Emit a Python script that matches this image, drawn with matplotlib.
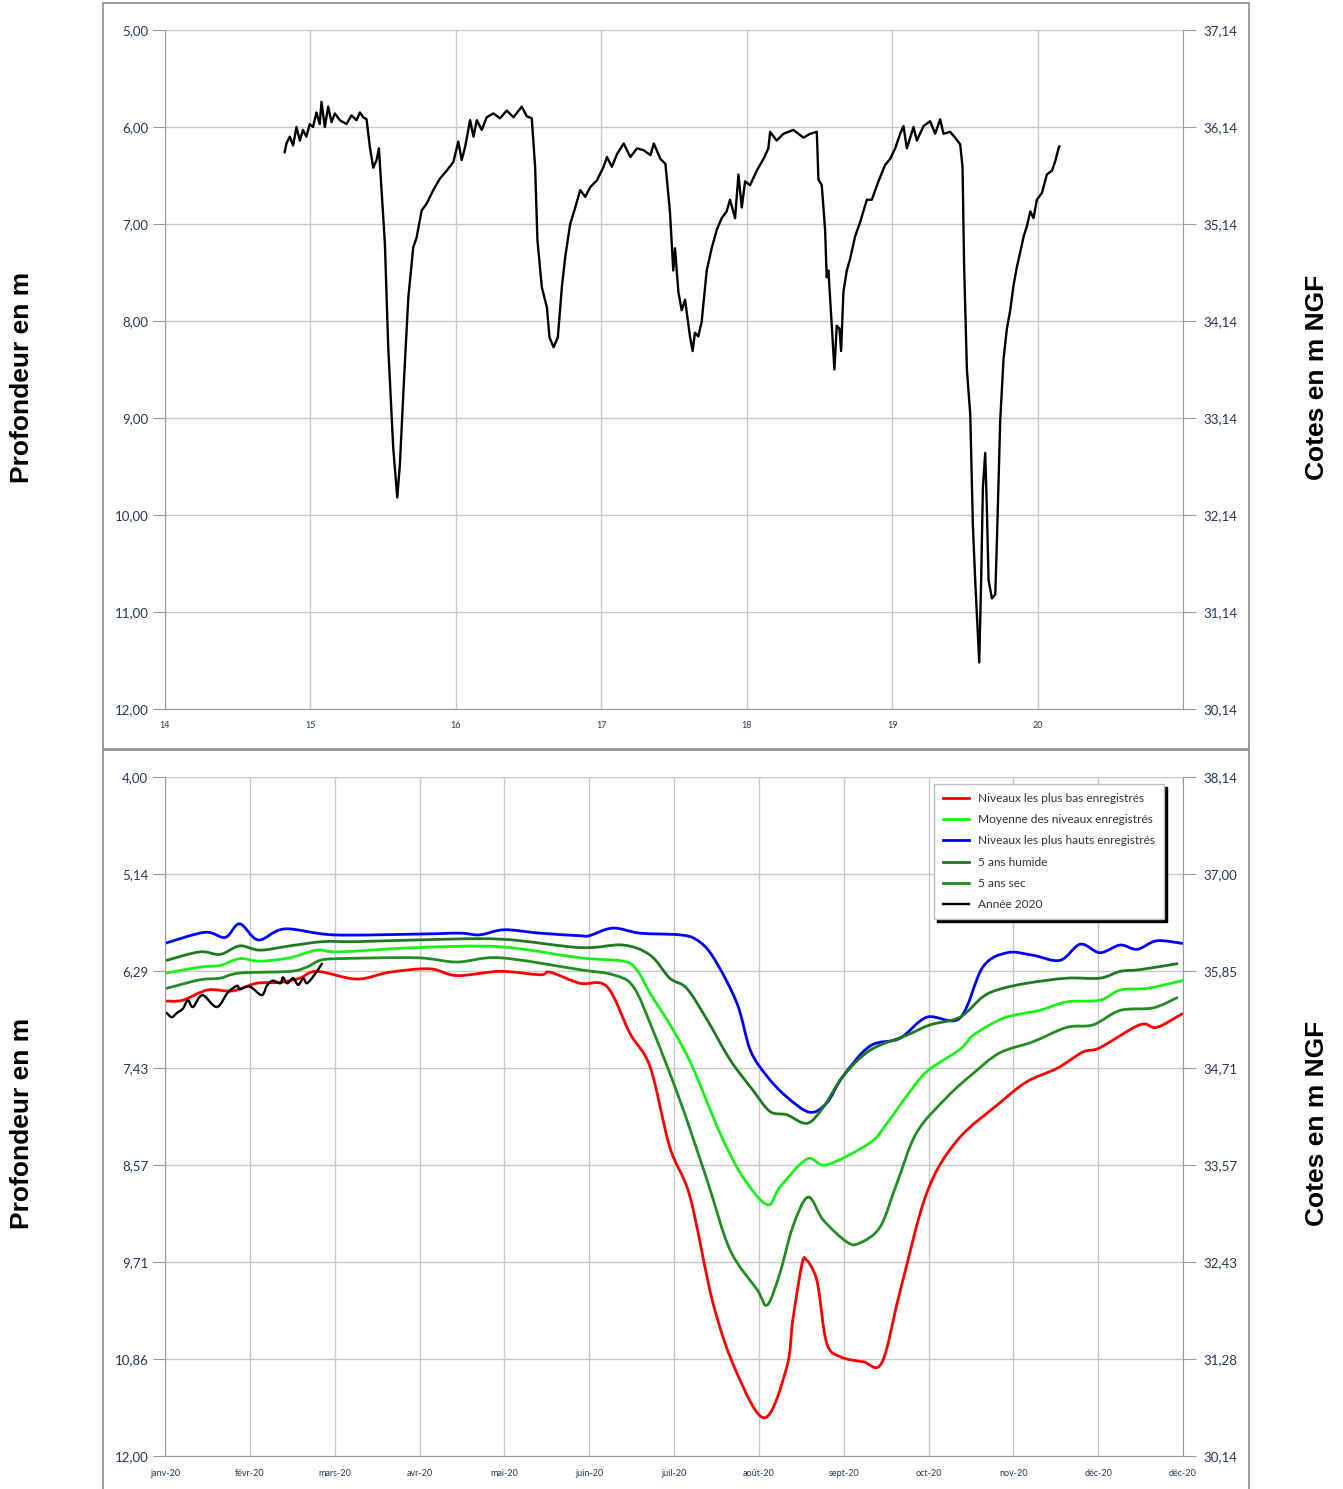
import matplotlib
matplotlib.use("Agg")
import matplotlib.pyplot as plt
from matplotlib.patches import Rectangle, PathPatch
from matplotlib.path import Path
from matplotlib.lines import Line2D

# --- top chart : piezometer record 2014-2020 (depth in m) ---
top_years = [14.823, 14.835, 14.858, 14.881, 14.904, 14.927, 14.949, 14.972, 14.995, 15.018,
             15.041, 15.064, 15.076, 15.099, 15.122, 15.145, 15.168, 15.202, 15.248, 15.282,
             15.317, 15.340, 15.363, 15.386, 15.409, 15.432, 15.455, 15.471, 15.489, 15.512,
             15.535, 15.569, 15.597, 15.615, 15.643, 15.673, 15.707, 15.730, 15.765, 15.799,
             15.845, 15.891, 15.937, 15.983, 16.017, 16.040, 16.063, 16.098, 16.121, 16.144,
             16.178, 16.212, 16.258, 16.304, 16.350, 16.396, 16.453, 16.488, 16.522, 16.545,
             16.561, 16.591, 16.626, 16.644, 16.672, 16.701, 16.729, 16.752, 16.786, 16.821,
             16.855, 16.890, 16.924, 16.970, 17.016, 17.039, 17.073, 17.108, 17.154, 17.200,
             17.246, 17.292, 17.338, 17.361, 17.407, 17.441, 17.472, 17.495, 17.507, 17.530,
             17.553, 17.576, 17.610, 17.628, 17.644, 17.667, 17.690, 17.725, 17.759, 17.794,
             17.828, 17.862, 17.885, 17.920, 17.943, 17.966, 17.989, 18.023, 18.069, 18.115,
             18.149, 18.161, 18.206, 18.252, 18.321, 18.390, 18.436, 18.482, 18.493, 18.516,
             18.539, 18.550, 18.562, 18.585, 18.603, 18.619, 18.638, 18.649, 18.665, 18.688,
             18.711, 18.745, 18.780, 18.826, 18.860, 18.906, 18.952, 18.986, 19.021, 19.055,
             19.078, 19.101, 19.147, 19.170, 19.216, 19.261, 19.296, 19.330, 19.353, 19.399,
             19.433, 19.468, 19.484, 19.495, 19.514, 19.537, 19.555, 19.571, 19.599, 19.612,
             19.624, 19.640, 19.651, 19.663, 19.686, 19.709, 19.720, 19.743, 19.766, 19.789,
             19.812, 19.835, 19.858, 19.881, 19.904, 19.927, 19.950, 19.972, 19.995, 20.030,
             20.064, 20.099, 20.122, 20.144, 20.150]
top_depth = [6.26, 6.17, 6.10, 6.19, 6.00, 6.14, 6.03, 6.10, 5.97, 6.00,
             5.85, 5.97, 5.74, 6.00, 5.79, 5.95, 5.86, 5.93, 5.97, 5.88,
             5.93, 5.85, 5.90, 5.92, 6.21, 6.42, 6.34, 6.22, 6.65, 7.20,
             8.27, 9.30, 9.82, 9.48, 8.62, 7.76, 7.24, 7.14, 6.86, 6.79,
             6.65, 6.53, 6.45, 6.36, 6.15, 6.34, 6.21, 5.93, 6.10, 5.93,
             6.03, 5.90, 5.86, 5.91, 5.83, 5.90, 5.79, 5.89, 5.91, 6.41,
             7.17, 7.65, 7.86, 8.17, 8.27, 8.17, 7.65, 7.34, 7.00, 6.83,
             6.65, 6.72, 6.62, 6.55, 6.41, 6.31, 6.41, 6.28, 6.17, 6.31,
             6.22, 6.24, 6.29, 6.17, 6.33, 6.38, 6.87, 7.48, 7.25, 7.70,
             7.89, 7.78, 8.16, 8.31, 8.12, 8.16, 8.01, 7.48, 7.25, 7.06,
             6.94, 6.87, 6.75, 6.94, 6.49, 6.83, 6.56, 6.60, 6.45, 6.33,
             6.22, 6.05, 6.14, 6.07, 6.03, 6.11, 6.07, 6.05, 6.54, 6.60,
             7.06, 7.55, 7.48, 8.05, 8.50, 8.05, 8.08, 8.31, 7.70, 7.48,
             7.36, 7.13, 6.98, 6.75, 6.75, 6.56, 6.39, 6.33, 6.22, 6.07,
             5.99, 6.22, 6.00, 6.14, 5.99, 5.94, 6.07, 5.92, 6.07, 6.05,
             6.11, 6.18, 6.41, 7.44, 8.50, 8.96, 10.10, 10.67, 11.52, 10.67,
             9.72, 9.36, 9.91, 10.67, 10.86, 10.82, 10.29, 9.03, 8.39, 8.08,
             7.89, 7.63, 7.44, 7.29, 7.13, 7.02, 6.87, 6.94, 6.75, 6.68,
             6.49, 6.45, 6.35, 6.22, 6.20]
top_xticks = [14, 15, 16, 17, 18, 19, 20]
top_yticks = [5, 6, 7, 8, 9, 10, 11, 12]

# --- bottom chart : 2020 against statistics (month index 0 = janv-20) ---
month_labels = ["janv-20", "févr-20", "mars-20", "avr-20", "mai-20", "juin-20", "juil-20",
                "août-20", "sept-20", "oct-20", "nov-20", "déc-20", "déc-20"]
bottom_yticks = [4 + 8 / 7 * k for k in range(8)]

red_x = [0.02, 0.21, 0.50, 0.80, 1.08, 1.36, 1.59, 1.79, 2.26, 2.65, 3.12, 3.44, 3.95, 4.42,
         4.54, 4.89, 5.21, 5.48, 5.72, 5.95, 6.19, 6.46, 6.74, 7.07, 7.33, 7.40, 7.51, 7.56,
         7.64, 7.70, 7.80, 7.96, 8.23, 8.45, 8.66, 8.98, 9.34, 9.84, 10.16, 10.52, 10.82,
         11.02, 11.49, 11.69, 11.99]
red_y = [6.64, 6.63, 6.51, 6.52, 6.43, 6.42, 6.37, 6.29, 6.38, 6.30, 6.26, 6.34, 6.29, 6.33,
         6.30, 6.43, 6.47, 7.02, 7.42, 8.36, 8.95, 10.20, 11.02, 11.55, 10.95, 10.40, 9.73, 9.69,
         9.81, 10.01, 10.67, 10.83, 10.89, 10.90, 10.08, 8.90, 8.28, 7.84, 7.59, 7.43, 7.24,
         7.19, 6.92, 6.95, 6.79]

mean_x = [0.02, 0.41, 0.65, 0.88, 1.12, 1.47, 1.79, 2.06, 2.97, 3.95, 4.89, 5.40, 5.56, 5.72,
          5.99, 6.22, 6.54, 6.81, 7.10, 7.25, 7.57, 7.80, 8.31, 8.51, 8.75, 8.98, 9.37, 9.53,
          9.84, 10.04, 10.31, 10.63, 11.02, 11.26, 11.58, 11.99]
mean_y = [6.31, 6.24, 6.22, 6.14, 6.17, 6.13, 6.04, 6.06, 6.01, 6.00, 6.13, 6.17, 6.27, 6.55,
          6.98, 7.42, 8.19, 8.71, 9.04, 8.83, 8.50, 8.57, 8.31, 8.08, 7.75, 7.47, 7.21, 7.04,
          6.86, 6.80, 6.75, 6.65, 6.63, 6.51, 6.49, 6.40]

blue_x = [0.00, 0.47, 0.71, 0.88, 1.10, 1.41, 1.99, 3.01, 3.48, 3.71, 4.00, 4.42, 4.89, 5.00,
          5.28, 5.60, 6.07, 6.27, 6.46, 6.74, 6.90, 7.10, 7.33, 7.60, 7.80, 7.99, 8.31, 8.66,
          8.98, 9.37, 9.64, 9.93, 10.23, 10.55, 10.79, 11.02, 11.26, 11.46, 11.69, 11.99]
blue_y = [5.96, 5.83, 5.89, 5.73, 5.92, 5.79, 5.86, 5.85, 5.84, 5.86, 5.80, 5.84, 5.87, 5.87,
          5.78, 5.84, 5.86, 5.92, 6.12, 6.66, 7.22, 7.53, 7.77, 7.95, 7.84, 7.53, 7.17, 7.08,
          6.83, 6.84, 6.24, 6.07, 6.10, 6.16, 5.97, 6.07, 5.98, 6.03, 5.93, 5.96]

wet_x = [0.02, 0.41, 0.65, 0.88, 1.12, 1.47, 1.86, 2.26, 2.97, 3.95, 4.89, 5.40, 5.72, 5.95,
         6.15, 6.39, 6.66, 6.93, 7.13, 7.33, 7.57, 7.76, 7.99, 8.31, 8.75, 9.02, 9.37, 9.64,
         9.84, 10.16, 10.63, 11.02, 11.26, 11.49, 11.93]
wet_y = [6.16, 6.06, 6.09, 5.99, 6.04, 5.99, 5.94, 5.94, 5.92, 5.91, 6.01, 5.98, 6.10, 6.37,
         6.49, 6.86, 7.33, 7.69, 7.94, 7.98, 8.08, 7.89, 7.53, 7.22, 7.04, 6.92, 6.83, 6.59,
         6.50, 6.43, 6.37, 6.37, 6.29, 6.27, 6.20]

dry_x = [0.02, 0.41, 0.65, 0.88, 1.47, 1.67, 1.83, 2.06, 2.97, 3.44, 3.95, 4.89, 5.28, 5.52,
         5.75, 6.07, 6.39, 6.66, 6.98, 7.10, 7.25, 7.40, 7.58, 7.76, 8.04, 8.19, 8.43, 8.63,
         8.86, 9.22, 9.53, 9.84, 10.23, 10.63, 10.94, 11.26, 11.65, 11.93]
dry_y = [6.49, 6.39, 6.37, 6.31, 6.29, 6.24, 6.16, 6.14, 6.13, 6.18, 6.13, 6.27, 6.33, 6.47,
         6.98, 7.81, 8.75, 9.57, 10.04, 10.22, 9.84, 9.30, 8.95, 9.22, 9.48, 9.49, 9.30, 8.78,
         8.19, 7.77, 7.49, 7.25, 7.12, 6.95, 6.92, 6.75, 6.72, 6.60]

y2020_x = [0.02, 0.08, 0.14, 0.21, 0.27, 0.33, 0.44, 0.61, 0.74, 0.85, 0.88, 1.00, 1.14, 1.20,
           1.27, 1.36, 1.39, 1.44, 1.51, 1.57, 1.63, 1.67, 1.74, 1.85]
y2020_y = [6.78, 6.83, 6.78, 6.73, 6.63, 6.71, 6.57, 6.71, 6.54, 6.46, 6.50, 6.47, 6.57, 6.46,
           6.40, 6.43, 6.36, 6.43, 6.37, 6.45, 6.37, 6.43, 6.36, 6.20]

NGF_REF = 42.14   # cote = NGF_REF - depth
TICK_COL = "#253858"
GRID_COL = "#C8C8C8"
SPINE_COL = "#9A9A9A"


def fmt(v):
    return f"{v:.2f}".replace(".", ",")


def smooth_path(xs, ys):
    # Excel style "smoothed line": cubic bezier through every read point
    pts = list(zip(xs, ys))
    n = len(pts)
    verts, codes = [pts[0]], [Path.MOVETO]
    for i in range(n - 1):
        p0 = pts[i - 1] if i > 0 else pts[i]
        p1, p2 = pts[i], pts[i + 1]
        p3 = pts[i + 2] if i + 2 < n else pts[i + 1]
        c1 = (p1[0] + (p2[0] - p0[0]) / 6, p1[1] + (p2[1] - p0[1]) / 6)
        c2 = (p2[0] - (p3[0] - p1[0]) / 6, p2[1] - (p3[1] - p1[1]) / 6)
        verts += [c1, c2, p2]
        codes += [Path.CURVE4] * 3
    return Path(verts, codes)


def style_axes(ax, yticks, ylim):
    ax.set_ylim(ylim[1], ylim[0])
    ax.set_yticks(yticks)
    ax.set_yticklabels([fmt(v) for v in yticks])
    ax.grid(True, color=GRID_COL, lw=1)
    ax.set_axisbelow(True)
    for s in ["left", "bottom", "right"]:
        ax.spines[s].set_color(SPINE_COL)
    ax.spines["top"].set_visible(False)
    ax.tick_params(axis="y", length=9, color=SPINE_COL, labelcolor=TICK_COL,
                   labelsize=9.5, pad=3)
    ax.tick_params(axis="x", length=0, labelcolor=TICK_COL, labelsize=6.5, pad=9)
    # right axis : NGF altitude
    ax2 = ax.twinx()
    ax2.set_ylim(ax.get_ylim())
    ax2.set_yticks(yticks)
    ax2.set_yticklabels([fmt(NGF_REF - v) for v in yticks])
    ax2.tick_params(axis="y", length=9, color=SPINE_COL, labelcolor=TICK_COL,
                    labelsize=9.5, pad=6)
    for s in ax2.spines.values():
        s.set_visible(False)
    return ax2


plt.rcParams["font.family"] = ["Lato", "DejaVu Sans"]
fig = plt.figure(figsize=(13.43, 14.89), dpi=100)

# panel frames
for y0, h in [(1 - 749 / 1489, 746 / 1489), (-0.01, 739 / 1489 + 0.01)]:
    fig.patches.append(Rectangle((103 / 1343, y0), 1146 / 1343, h, transform=fig.transFigure,
                                 fill=False, ec="#8C8C8C", lw=1.2))

left, width = 165 / 1343, 1018 / 1343
ax_top = fig.add_axes([left, 1 - 709 / 1489, width, 679 / 1489])
ax_bot = fig.add_axes([left, 1 - 1456 / 1489, width, 679 / 1489])

# top chart
ax_top.plot(top_years, top_depth, color="black", lw=1.7)
ax_top.set_xlim(14, 21)
ax_top.set_xticks(top_xticks)
ax_top.set_xticklabels([str(v) for v in top_xticks])
style_axes(ax_top, top_yticks, (5, 12))

# bottom chart
lw = 2.0
series = [
    (red_x, red_y, "#FF0000", lw, "Niveaux les plus bas enregistrés"),
    (mean_x, mean_y, "#19F219", lw, "Moyenne des niveaux enregistrés"),
    (blue_x, blue_y, "#0000FF", lw, "Niveaux les plus hauts enregistrés"),
    (wet_x, wet_y, "#1E7A1E", lw, "5 ans humide"),
    (dry_x, dry_y, "#238C23", lw, "5 ans sec"),
    (y2020_x, y2020_y, "black", 1.7, "Année 2020"),
]
handles = []
for xs, ys, col, w, lab in series:
    ax_bot.add_patch(PathPatch(smooth_path(xs, ys), fill=False, ec=col, lw=w,
                               capstyle="round", joinstyle="round"))
    handles.append(Line2D([], [], color=col, lw=w, label=lab))
ax_bot.set_xlim(0, 12)
ax_bot.set_xticks(range(len(month_labels)))
ax_bot.set_xticklabels(month_labels)
style_axes(ax_bot, bottom_yticks, (4, 12))

leg = ax_bot.legend(handles=handles, loc="upper left", bbox_to_anchor=(0.7495, 0.9985),
                    fontsize=8.6, frameon=True, fancybox=False, framealpha=1,
                    edgecolor="#BBBBBB", shadow={"color": "black", "alpha": 1},
                    handlelength=2.2, labelspacing=0.86, borderpad=0.75, handletextpad=0.75)
for t in leg.get_texts():
    t.set_color("#333333")

# axis titles
for yc in [1 - 377 / 1489, 1 - 1123 / 1489]:
    fig.text(22 / 1343, yc, "Profondeur en m", rotation=90, ha="center", va="center",
             family="Liberation Sans", fontweight="bold", fontsize=19)
    fig.text(1317 / 1343, yc, "Cotes en m NGF", rotation=90, ha="center", va="center",
             family="Liberation Sans", fontweight="bold", fontsize=19)

fig.savefig("out.png", dpi=100)
